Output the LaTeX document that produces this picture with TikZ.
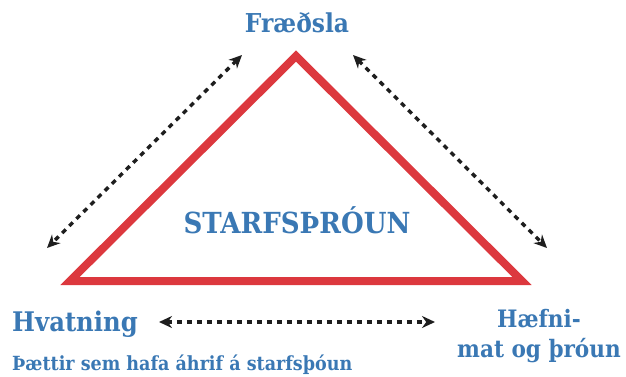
\documentclass[tikz,border=0pt]{standalone}
\usepackage{fontspec}
\setmainfont{DejaVu Serif Condensed}
\usepackage{tikz}
\usetikzlibrary{arrows.meta}

\definecolor{labelblue}{RGB}{58,120,180}
\definecolor{triared}{RGB}{220,56,62}
\definecolor{arrowgrey}{RGB}{30,30,30}

\tikzset{
    label/.style={
        text=labelblue,
        font=\bfseries\fontsize{26}{30}\selectfont,
        inner sep=0pt
    },
    link/.style={
        arrowgrey,
        line width=3.4pt,
        dash pattern=on 5pt off 5pt,
        {Stealth[length=13pt,width=12pt]}-{Stealth[length=13pt,width=12pt]}
    }
}

\begin{document}
\begin{tikzpicture}[x=1pt,y=-1pt]

    \useasboundingbox (0,0) rectangle (626,376);

    %------------------------------------------------
    % Triangle
    %------------------------------------------------

    \coordinate (top)   at (296,56);
    \coordinate (left)  at (70,281);
    \coordinate (right) at (522,281);

    \draw[triared,line width=8pt,line join=miter]
        (top)--(left)--(right)--cycle;

    %------------------------------------------------
    % Labels
    %------------------------------------------------

    \node[label,anchor=base]
        (fraedsla) at (297,32)
        {Fræðsla};

    \node[label,anchor=base,
          font=\bfseries\fontsize{29}{34}\selectfont]
        (starf) at (297,233)
        {STARFSÞRÓUN};

    \node[label,anchor=base west,
          font=\bfseries\fontsize{27}{30}\selectfont]
        (hvatning) at (12,331)
        {Hvatning};

    \node[label,align=center,anchor=base,
          font=\bfseries\fontsize{24}{30}\selectfont]
        (haefni) at (539,357)
        {Hæfni-\\mat og þróun};

    \node[label,anchor=base west,
          font=\bfseries\fontsize{19.5}{22}\selectfont]
        (caption) at (12,370)
        {Þættir sem hafa áhrif á starfsþóun};

    %------------------------------------------------
    % Links between the factors
    %------------------------------------------------

    \coordinate (ltop) at (242,55);
    \coordinate (lbot) at (47,248);
    \coordinate (rtop) at (353,55);
    \coordinate (rbot) at (547,248);
    \coordinate (hl)   at (159,322);
    \coordinate (hr)   at (435,322);

    \draw[link] (ltop)--(lbot);
    \draw[link] (rtop)--(rbot);
    \draw[link] (hl)--(hr);

\end{tikzpicture}
\end{document}
